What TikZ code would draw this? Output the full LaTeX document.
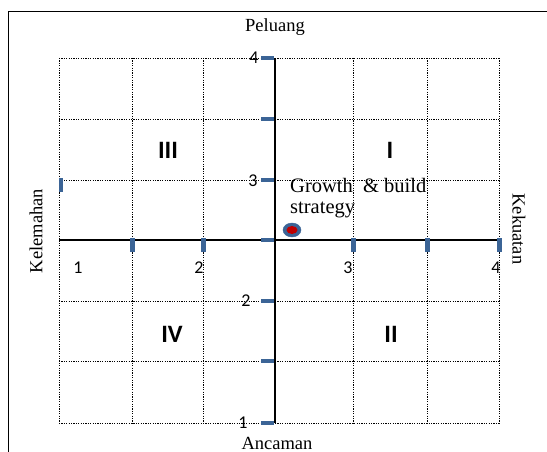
\documentclass[tikz,border=0pt]{standalone}
\usepackage{fontspec}
\usetikzlibrary{shapes.geometric}
\setmainfont{Liberation Serif}
\newfontfamily\numfont{Carlito}
\begin{document}
\begin{tikzpicture}[x=1pt,y=-1pt,
  gridline/.style={dash pattern=on 1.2pt off 1.2pt, line width=0.9pt},
  axisline/.style={line width=1.6pt},
  numlabel/.style={font=\numfont\fontsize{18}{20}\selectfont, inner sep=0pt},
  quadlabel/.style={font=\numfont\bfseries\fontsize{25}{27}\selectfont, inner sep=0pt},
  sidelabel/.style={font=\fontsize{18.5}{20}\selectfont, inner sep=0pt}]
\definecolor{tickblue}{HTML}{3B6496}
\definecolor{dotred}{HTML}{C00000}
\useasboundingbox (0,0) rectangle (547,452);

% outer frame (top and left edges)
\draw[line width=0.8pt] (547,11) -- (8,11) -- (8,452);

% dotted grid
\foreach \x in {59,132,203,353,427,499}
  \draw[gridline] (\x,58) -- (\x,423);
\foreach \y in {58,119,180,301,361,423}
  \draw[gridline] (59,\y) -- (499,\y);

% axes
\coordinate (xl) at (59,240);
\coordinate (xr) at (499,240);
\coordinate (yt) at (275,58);
\coordinate (yb) at (275,423);
\draw[axisline] (xl) -- (xr);
\draw[axisline] (yt) -- (yb);

% ticks on the vertical axis
\foreach \y in {58,119,180,240,301,361,423}
  \fill[tickblue] (261,\y-2.2) rectangle (274,\y+2.2);
% ticks on the horizontal axis
\foreach \x in {132,203,353,427,499}
  \fill[tickblue] (\x-2.5,238) rectangle (\x+2.5,252);
\fill[tickblue] (59,178) rectangle (63,192);

% scale numbers
\node[numlabel] (h1) at (78,268) {1};
\node[numlabel] (h2) at (199,268) {2};
\node[numlabel] (h3) at (348,268) {3};
\node[numlabel] (h4) at (496,268) {4};
\node[numlabel] (v4) at (254,58) {4};
\node[numlabel] (v3) at (253,181) {3};
\node[numlabel] (v2) at (246,301) {2};
\node[numlabel] (v1) at (243,423) {1};

% quadrant numbers
\node[quadlabel] (q3) at (168,150) {III};
\node[quadlabel] (q1) at (390,150) {I};
\node[quadlabel] (q4) at (172,334) {IV};
\node[quadlabel] (q2) at (391,334) {II};

% side captions
\node[sidelabel] (top) at (275,27) {Peluang};
\node[sidelabel] (bottom) at (277,443) {Ancaman};
\node[sidelabel, rotate=90] (left) at (36,231) {Kelemahan};
\node[sidelabel, rotate=-90] (right) at (519,229) {Kekuatan};

% position marker
\node[ellipse, draw=tickblue, fill=tickblue, minimum width=18pt, minimum height=14pt, inner sep=0pt] (pos) at (292,230) {};
\fill[dotred] (pos.center) ellipse (5.5 and 4);
\node[anchor=north west, align=left, inner sep=0pt,
      font=\fontsize{20.5}{21}\selectfont] (strat) at (290,178) {Growth \ \& build\\strategy};
\end{tikzpicture}
\end{document}
